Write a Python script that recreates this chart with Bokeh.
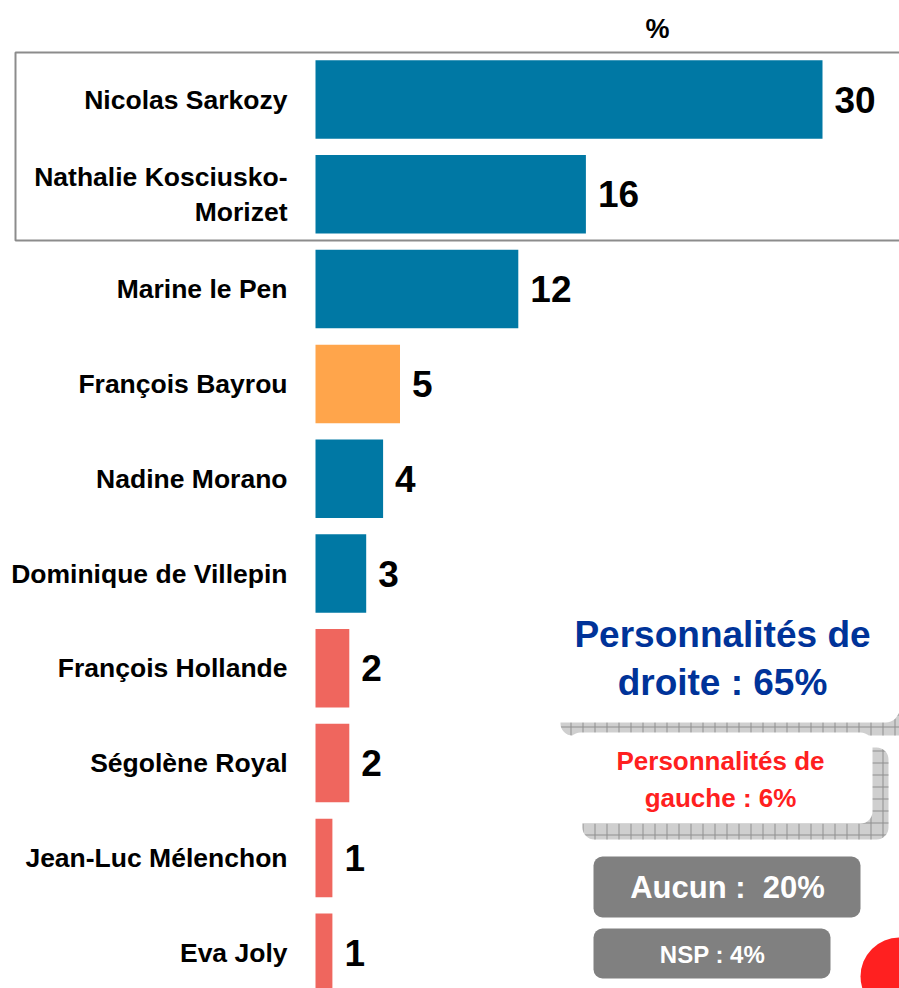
from bokeh.plotting import figure
from bokeh.models import Range1d, ColumnDataSource
from bokeh.core.properties import value
from bokeh.embed import file_html
from bokeh.resources import INLINE

# ---- data ----
names = ["Nicolas Sarkozy", "Nathalie Kosciusko-\nMorizet", "Marine le Pen",
         "François Bayrou", "Nadine Morano", "Dominique de Villepin",
         "François Hollande", "Ségolène Royal", "Jean-Luc Mélenchon", "Eva Joly"]
values = [30, 16, 12, 5, 4, 3, 2, 2, 1, 1]
camps = ["droite", "droite", "droite", "centre", "droite", "droite",
         "gauche", "gauche", "gauche", "gauche"]
camp_colors = {"droite": "#0078A4", "centre": "#FFA54B", "gauche": "#EF665E"}
unit_label = "%"
summary_droite = "Personnalités de\ndroite : 65%"
summary_gauche = "Personnalités de\ngauche : 6%"
summary_aucun = "Aucun :\u00a0 20%"
summary_nsp = "NSP : 4%"

# ---- layout ----
W, H = 899, 988
PX = 16.9      # pixels per percentage point
ROW = 94.8     # pixels per row
X0 = -315 / PX
Y_END = -99 / ROW

def dx(sx):
    return X0 + sx / PX

def dy(sy):
    return Y_END + sy / ROW

FONT = value("Liberation Sans")

p = figure(width=W, height=H,
           x_range=Range1d(X0, X0 + W / PX),
           y_range=Range1d(start=Y_END + H / ROW, end=Y_END),
           output_backend="svg", toolbar_location=None,
           x_axis_location=None, y_axis_location=None,
           min_border=0, outline_line_color=None)
p.grid.visible = False
p.background_fill_color = "white"

src = ColumnDataSource(dict(
    y=list(range(len(names))),
    v=values,
    vt=[str(v) for v in values],
    name=names,
    color=[camp_colors[c] for c in camps],
))

# frame around top two
p.quad(left=dx(15), right=dx(930), top=dy(52), bottom=dy(240),
       fill_color=None, line_color="#8c8c8c", line_width=2)

p.hbar(y="y", left=0, right="v", height=0.828, fill_color="color",
       line_color=None, source=src)

p.text(x="v", y="y", text="vt", x_offset=12, text_align="left",
       text_baseline="middle", text_font=FONT, text_font_style="bold",
       text_font_size="37px", text_color="black", source=src)

p.text(x=0, y="y", text="name", x_offset=-28, text_align="right",
       text_baseline="middle", text_font=FONT, text_font_style="bold",
       text_font_size="26.5px", text_color="black", text_line_height=1.17,
       source=src)

p.text(x=[dx(657)], y=[dy(28)], text=[unit_label], text_align="center",
       text_baseline="middle", text_font=FONT, text_font_style="bold",
       text_font_size="27px", text_color="black")

# summary boxes
hatch = dict(fill_color="#cfcfcf", hatch_pattern="+", hatch_color="#8f8f8f",
             hatch_scale=12, hatch_weight=1, line_color=None)
p.quad(left=dx(560), right=dx(930), top=dy(620), bottom=dy(735),
       border_radius=12, **hatch)
p.quad(left=dx(545), right=dx(899), top=dy(595), bottom=dy(722),
       border_radius=14, fill_color="white", line_color=None)
p.quad(left=dx(582), right=dx(888), top=dy(747), bottom=dy(839),
       border_radius=12, **hatch)
p.quad(left=dx(568), right=dx(872), top=dy(732), bottom=dy(823),
       border_radius=12, fill_color="white", line_color=None)

p.text(x=[dx(722)], y=[dy(658)], text=[summary_droite], text_align="center",
       text_baseline="middle", text_font=FONT, text_font_style="bold",
       text_font_size="37px", text_color="#003399", text_line_height=1.15)
p.text(x=[dx(720)], y=[dy(779)], text=[summary_gauche], text_align="center",
       text_baseline="middle", text_font=FONT, text_font_style="bold",
       text_font_size="26px", text_color="#FF2020", text_line_height=1.22)

p.quad(left=dx(593), right=dx(860), top=dy(856), bottom=dy(917),
       border_radius=9, fill_color="#808080", line_color=None)
p.quad(left=dx(593), right=dx(830), top=dy(928), bottom=dy(978),
       border_radius=9, fill_color="#808080", line_color=None)
p.text(x=[dx(727)], y=[dy(887)], text=[summary_aucun], text_align="center",
       text_baseline="middle", text_font=FONT, text_font_style="bold",
       text_font_size="31px", text_color="white")
p.text(x=[dx(712)], y=[dy(954)], text=[summary_nsp], text_align="center",
       text_baseline="middle", text_font=FONT, text_font_style="bold",
       text_font_size="24px", text_color="white")

p.scatter(x=[dx(899)], y=[dy(976)], size=78, marker="circle",
          fill_color="#FF2020", line_color=None)

open("out.html", "w").write(file_html(p, INLINE))
